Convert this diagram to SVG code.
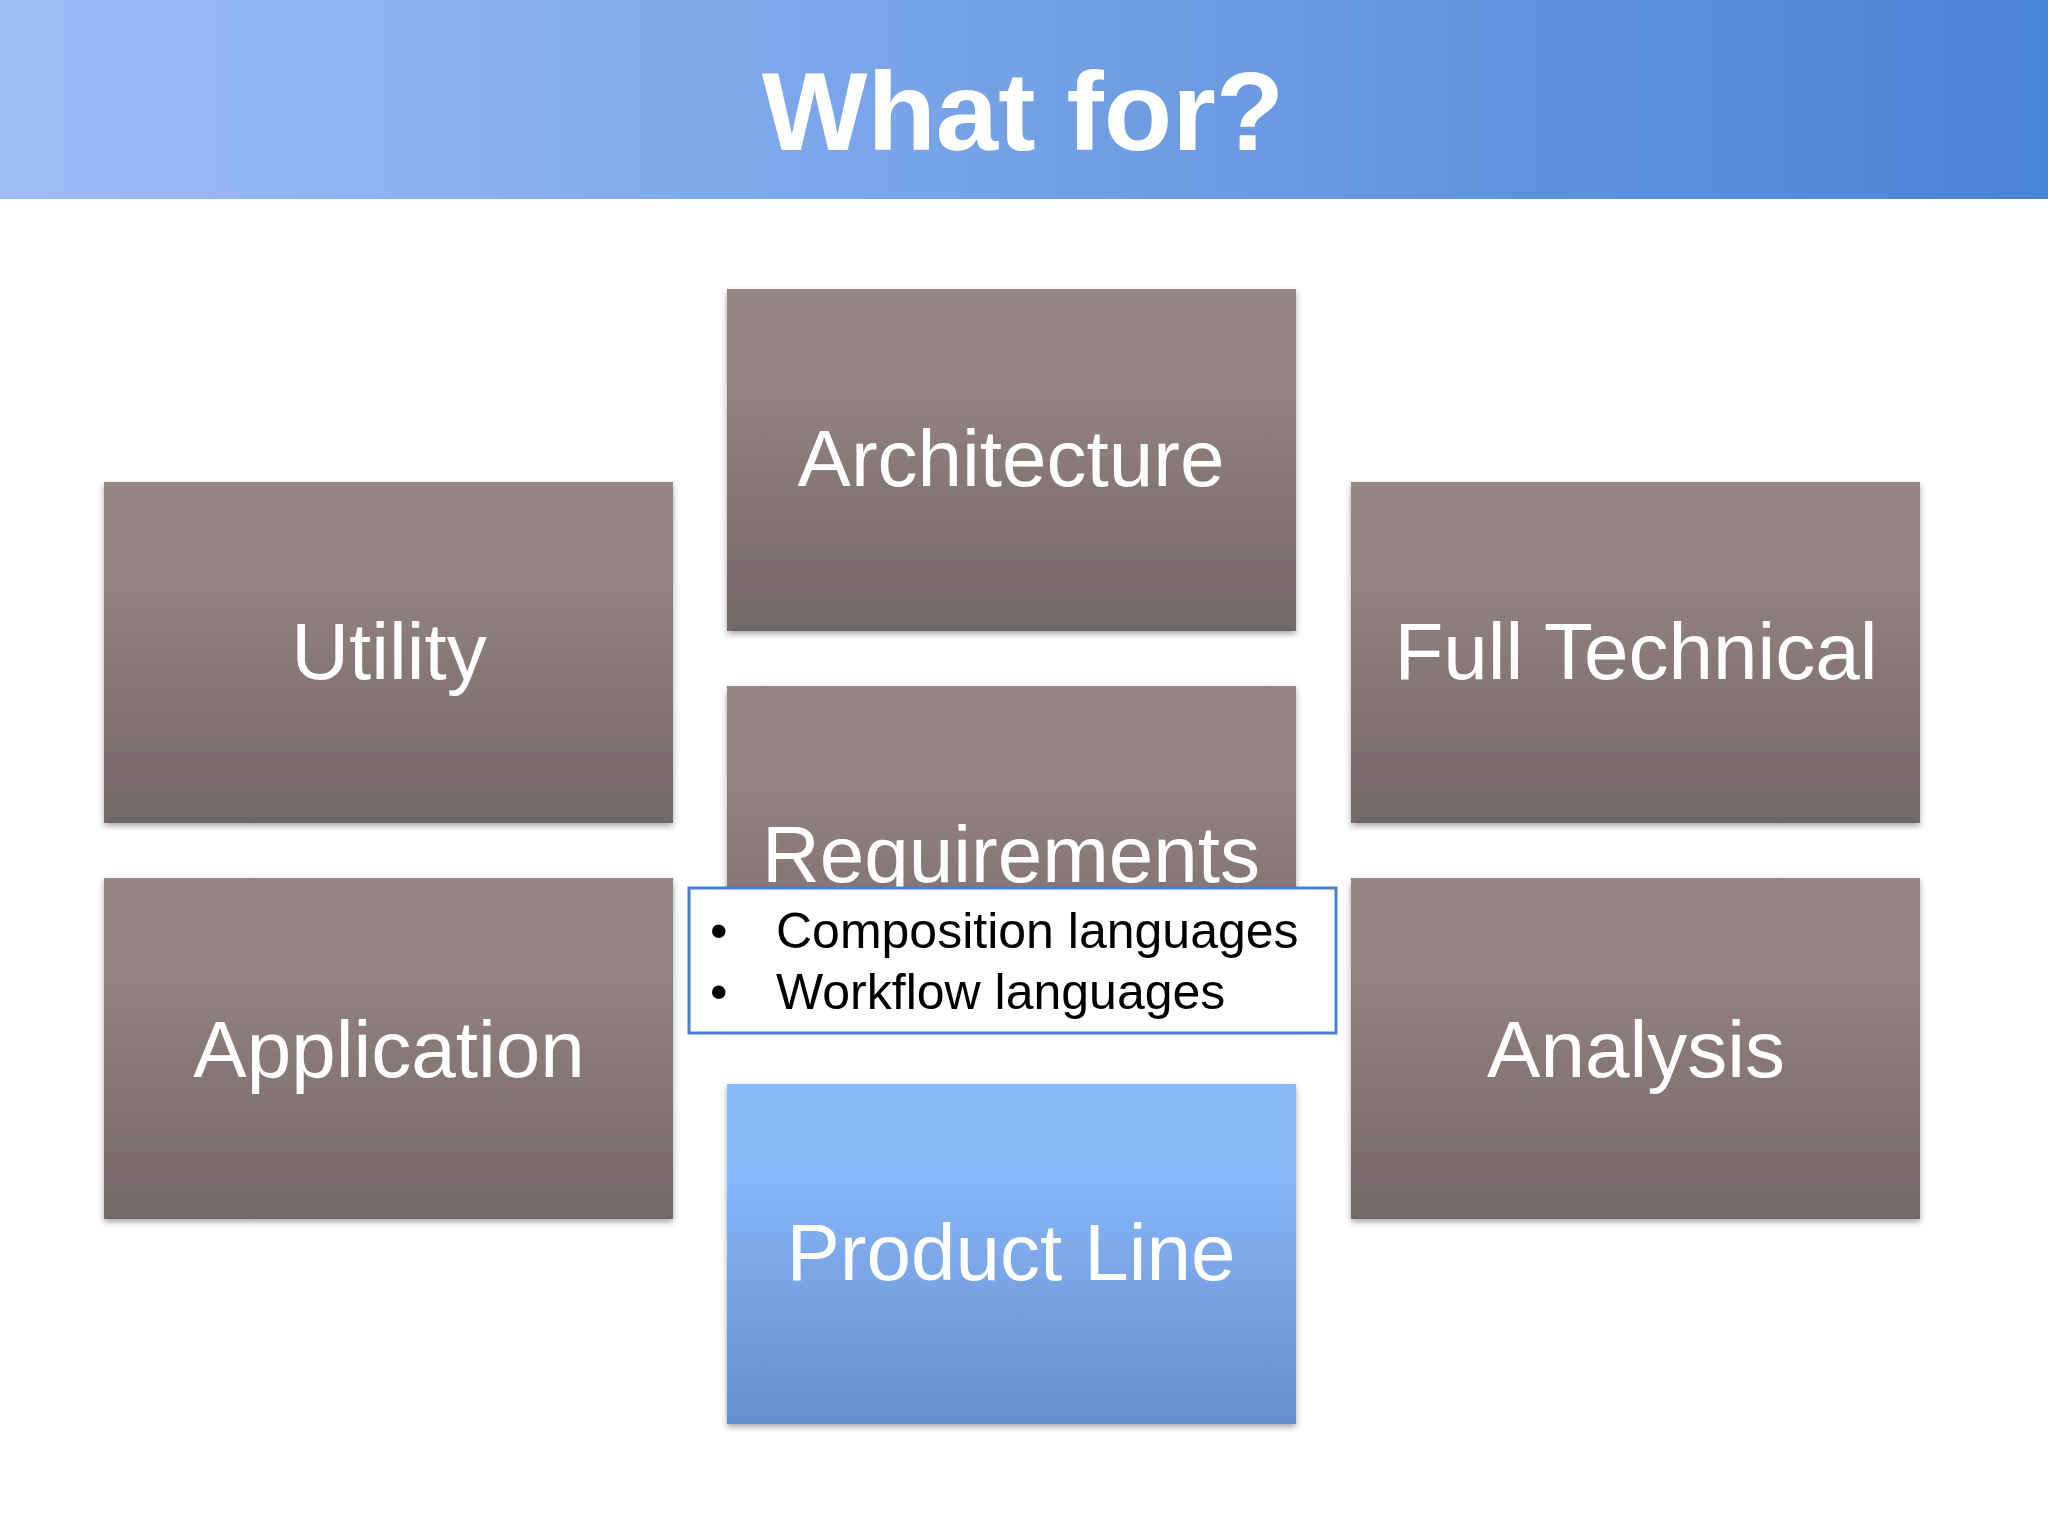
<svg xmlns="http://www.w3.org/2000/svg" width="2048" height="1536" viewBox="0 0 2048 1536">
<defs>
<linearGradient id="hdr" x1="0" y1="0" x2="1" y2="0"><stop offset="0" stop-color="#9dbdf8"/><stop offset="1" stop-color="#4a84d4"/></linearGradient>
<linearGradient id="gb" x1="0" y1="0" x2="0" y2="1"><stop offset="0" stop-color="#968685"/><stop offset="0.3" stop-color="#928281"/><stop offset="1" stop-color="#736668"/></linearGradient>
<linearGradient id="bb" x1="0" y1="0" x2="0" y2="1"><stop offset="0" stop-color="#8abafa"/><stop offset="0.3" stop-color="#86b4f6"/><stop offset="1" stop-color="#668ed0"/></linearGradient>
<filter id="sh" x="-5%" y="-5%" width="110%" height="115%"><feDropShadow dx="0" dy="3" stdDeviation="3" flood-opacity="0.35"/></filter>
</defs>
<style>
.box{fill:url(#gb);filter:url(#sh)}
.lbl{font-family:"Liberation Sans",Arial,sans-serif;font-size:80px;fill:#fff;text-anchor:middle}
.bul{font-family:"Liberation Sans",Arial,sans-serif;font-size:50px;fill:#000}
</style>
<rect width="2048" height="1536" fill="#fff"/>
<rect width="2048" height="199" fill="url(#hdr)"/>
<text x="1023" y="150" font-family="Liberation Sans,Arial,sans-serif" font-weight="bold" font-size="112" fill="#fff" text-anchor="middle">What for?</text>
<g id="architecture"><rect class="box" x="727" y="289" width="569" height="342"/><text class="lbl" x="1011" y="486">Architecture</text></g>
<g id="utility"><rect class="box" x="104" y="482" width="569" height="341"/><text class="lbl" x="389" y="679">Utility</text></g>
<g id="fulltechnical"><rect class="box" x="1351" y="482" width="569" height="341"/><text class="lbl" x="1636" y="679">Full Technical</text></g>
<g id="requirements"><rect class="box" x="727" y="686" width="569" height="342"/><text class="lbl" x="1011" y="882">Requirements</text></g>
<g id="application"><rect class="box" x="104" y="878" width="569" height="341"/><text class="lbl" x="389" y="1077">Application</text></g>
<g id="analysis"><rect class="box" x="1351" y="878" width="569" height="341"/><text class="lbl" x="1636" y="1077">Analysis</text></g>
<g id="productline"><rect x="727" y="1084" width="569" height="340" fill="url(#bb)" filter="url(#sh)"/><text class="lbl" x="1011" y="1280">Product Line</text></g>
<g id="callout"><rect x="689" y="888" width="647" height="145" fill="#fff" stroke="#4a7fd0" stroke-width="3"/>
<text class="bul" x="710" y="948">•</text><text class="bul" x="776" y="948">Composition languages</text>
<text class="bul" x="710" y="1009">•</text><text class="bul" x="776" y="1009">Workflow languages</text></g>
<g id="connectors"/>
</svg>
